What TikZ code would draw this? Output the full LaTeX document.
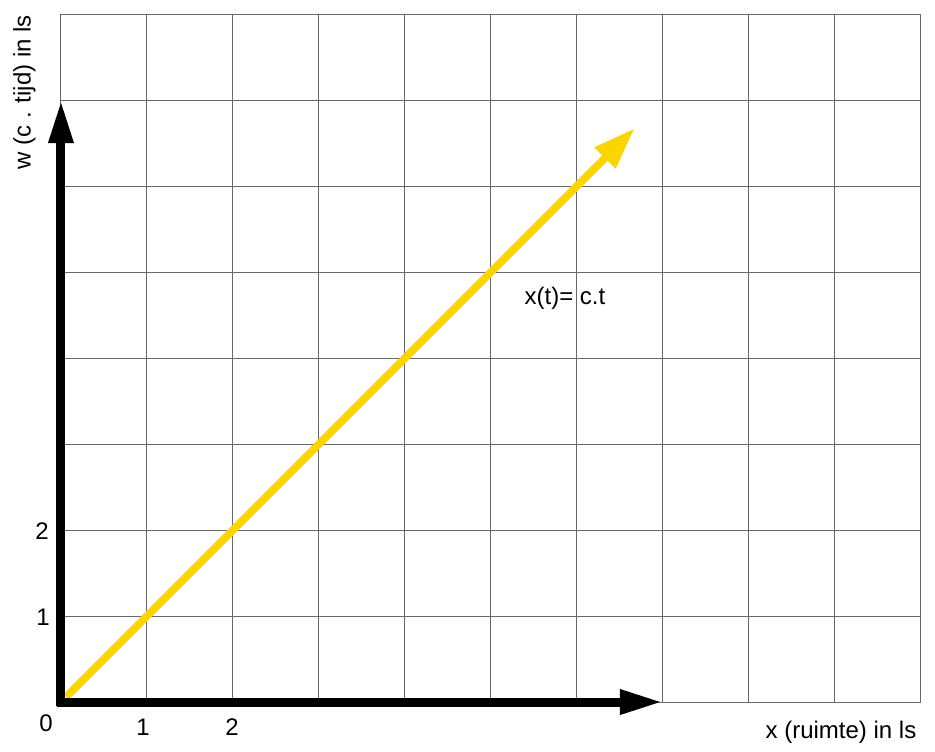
\documentclass[tikz,border=0pt]{standalone}
\usepackage{fontspec}
\setmainfont{Liberation Sans}
\usepackage{xcolor}
\usepackage{tikz}
\usetikzlibrary{arrows.meta,positioning}

\definecolor{lineyellow}{RGB}{252,212,0}
\definecolor{gridgray}{RGB}{105,105,105}

\begin{document}
\begin{tikzpicture}[
  x=86pt, y=86pt,
  font=\fontsize{24}{28}\selectfont,
  gridline/.style={draw=gridgray, line width=1pt},
  axis/.style={-{Triangle[length=43pt,width=23pt]}, line width=9pt, black},
  worldline/.style={-{Triangle[length=42pt,width=28pt]}, line width=7.5pt, lineyellow},
  tick/.style={inner sep=0pt}
]
\useasboundingbox (-0.709,-0.581) rectangle (10.163,8.163);

% grid
\draw[gridline, step=86pt] (0,0) grid (10,8);

% points
\coordinate (O)      at (0,0);
\coordinate (xstart) at (-0.05,0);
\coordinate (ystart) at (0,-0.05);
\coordinate (xend)   at (7,0);
\coordinate (yend)   at (0,7);
\coordinate (lstart) at (0.06,0.06);
\coordinate (lend)   at (6.67,6.67);

% light ray
\draw[worldline] (lstart) -- (lend);

% axes
\draw[axis] (xstart) -- (xend);
\draw[axis] (ystart) -- (yend);

% labels
\node[tick] (n0)  at (-0.174,-0.25) {0};
\node[tick] (nx1) at (0.953,-0.29)  {1};
\node[tick] (nx2) at (1.988,-0.29)  {2};
\node[tick] (ny1) at (-0.209,0.99)  {1};
\node[tick] (ny2) at (-0.221,1.99)  {2};
\node[tick] (xlab) at (9.07,-0.35) {x (ruimte) in ls};
\node[tick, rotate=90] (ylab) at (-0.424,7.09) {w (c . tijd) in ls};
\node[tick] (eq) at (5.86,4.70) {x(t)= c.t};
\end{tikzpicture}
\end{document}
